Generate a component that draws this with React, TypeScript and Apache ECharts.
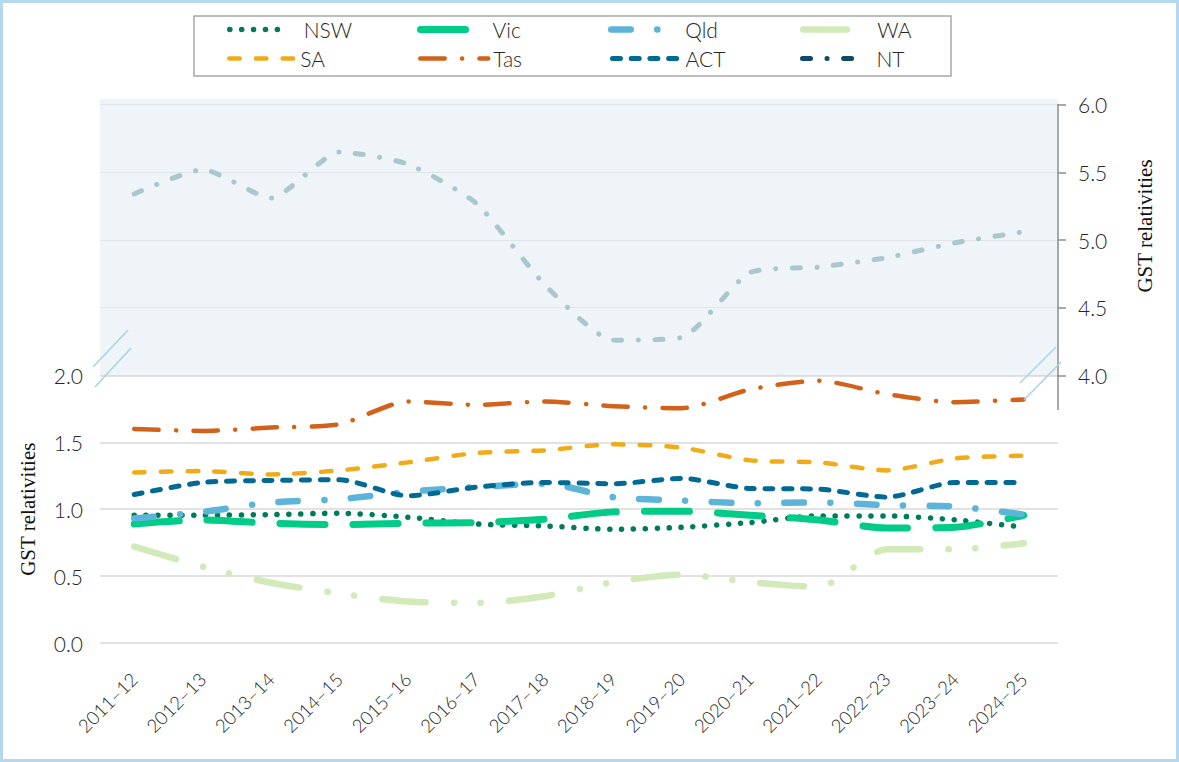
import React, { useEffect, useRef } from "react";
import * as echarts from "echarts";

const categories = [
  "2011–12", "2012–13", "2013–14", "2014–15", "2015–16", "2016–17", "2017–18",
  "2018–19", "2019–20", "2020–21", "2021–22", "2022–23", "2023–24", "2024–25",
];

const nsw = [0.955, 0.955, 0.96, 0.97, 0.94, 0.89, 0.875, 0.85, 0.865, 0.9, 0.95, 0.95, 0.92, 0.865];
const vic = [0.89, 0.92, 0.895, 0.885, 0.895, 0.9, 0.925, 0.98, 0.985, 0.955, 0.92, 0.86, 0.865, 0.955];
const qld = [0.93, 0.98, 1.05, 1.075, 1.13, 1.165, 1.19, 1.09, 1.065, 1.045, 1.05, 1.03, 1.02, 0.96];
const wa = [0.72, 0.57, 0.45, 0.37, 0.31, 0.3, 0.35, 0.455, 0.51, 0.455, 0.42, 0.7, 0.7, 0.745];
const sa = [1.275, 1.285, 1.26, 1.29, 1.35, 1.42, 1.44, 1.485, 1.46, 1.365, 1.35, 1.29, 1.38, 1.4];
const tas = [1.6, 1.585, 1.61, 1.635, 1.805, 1.78, 1.805, 1.77, 1.755, 1.895, 1.96, 1.86, 1.8, 1.82];
const act = [1.11, 1.2, 1.215, 1.22, 1.1, 1.165, 1.2, 1.19, 1.23, 1.155, 1.15, 1.09, 1.2, 1.2];
const nt = [5.34, 5.52, 5.31, 5.65, 5.56, 5.27, 4.67, 4.26, 4.28, 4.76, 4.8, 4.87, 4.98, 5.06];

const lowerTicks = { min: 0, max: 2, interval: 0.5 };
const upperTicks = { min: 4, max: 6, interval: 0.5 };

const axisName = "GST relativities";

const FONT = "Lato";
const TXT = "#262626";

type Spec = {
  name: string;
  data: number[];
  color: string;
  legendColor: string;
  width: number;
  dash: number[];
  upper: boolean;
  legendLeft: number;
  legendTop: number;
  legendW: number;
  textPad: number;
};

export default function App() {
  const ref = useRef<HTMLDivElement>(null);

  useEffect(() => {
    if (!ref.current) return;
    const chart = echarts.init(ref.current, undefined, { renderer: "svg" });

    const R1 = 19;
    const R2 = 48;
    const specs: Spec[] = [
      { name: "NSW", data: nsw, color: "#007a5c", legendColor: "#007a5c", width: 5.5, dash: [0.1, 11.8], upper: false, legendLeft: 227, legendTop: R1, legendW: 58, textPad: 11 },
      { name: "Vic", data: vic, color: "#00cc88", legendColor: "#00cc88", width: 7, dash: [45, 28], upper: false, legendLeft: 417, legendTop: R1, legendW: 51, textPad: 16 },
      { name: "Qld", data: qld, color: "#5cb4d9", legendColor: "#5cb4d9", width: 6.5, dash: [19.5, 26.5, 0.1, 26.5], upper: false, legendLeft: 608, legendTop: R1, legendW: 50, textPad: 19 },
      { name: "WA", data: wa, color: "#d2e9b9", legendColor: "#d2e9b9", width: 6.5, dash: [43.5, 28.3, 0.1, 26.7, 0.1, 28.3], upper: false, legendLeft: 800, legendTop: R1, legendW: 53, textPad: 16 },
      { name: "SA", data: sa, color: "#f0ab18", legendColor: "#f0ab18", width: 4.5, dash: [10.5, 16.2], upper: false, legendLeft: 227, legendTop: R2, legendW: 66, textPad: 0 },
      { name: "Tas", data: tas, color: "#d2621a", legendColor: "#d2621a", width: 4.5, dash: [24.5, 17.3, 0.1, 17.3], upper: false, legendLeft: 418, legendTop: R2, legendW: 68, textPad: 0 },
      { name: "ACT", data: act, color: "#006a93", legendColor: "#006a93", width: 5, dash: [8, 10.7], upper: false, legendLeft: 610, legendTop: R2, legendW: 68, textPad: 0 },
      { name: "NT", data: nt, color: "#aac6ce", legendColor: "#0e4b6a", width: 5, dash: [8, 16.5, 0.1, 16.5], upper: true, legendLeft: 800, legendTop: R2, legendW: 58, textPad: 11 },
    ];

    const legends = specs.map((s) => ({
      top: s.legendTop,
      left: s.legendLeft,
      padding: 0,
      itemWidth: s.legendW,
      itemHeight: 14,
      selectedMode: false,
      itemStyle: { opacity: 0 },
      textStyle: {
        fontFamily: FONT,
        fontWeight: 300,
        fontSize: 21,
        color: TXT,
        padding: [0, 0, 0, s.textPad],
      },
      data: [
        {
          name: s.name,
          itemStyle: { opacity: 0 },
          lineStyle: {
            color: s.legendColor,
            width: s.width,
            type: s.dash,
            cap: "round",
          },
        },
      ],
    }));

    const series = specs.map((s) => ({
      name: s.name,
      type: "line",
      data: s.data,
      xAxisIndex: s.upper ? 0 : 1,
      yAxisIndex: s.upper ? 0 : 1,
      symbol: "none",
      smooth: s.upper ? 0.2 : 0.25,
      color: s.color,
      lineStyle: { color: s.color, width: s.width, type: s.dash, cap: "round", join: "round" },
      z: 3,
    }));

    const breakLine = (x1: number, y1: number, x2: number, y2: number) => ({
      type: "line",
      z: 10,
      silent: true,
      shape: { x1, y1, x2, y2 },
      style: { stroke: "#a9d1e8", lineWidth: 1.5 },
    });

    chart.setOption({
      animation: false,
      backgroundColor: "#ffffff",
      grid: [
        { left: 100, right: 121, top: 104.6, height: 270.8 },
        { left: 100, right: 121, top: 375.4, height: 267.6 },
      ],
      legend: legends,
      xAxis: [
        {
          type: "category",
          gridIndex: 0,
          data: categories,
          boundaryGap: true,
          show: false,
        },
        {
          type: "category",
          gridIndex: 1,
          data: categories,
          boundaryGap: true,
          axisLine: { show: false },
          axisTick: { show: false },
          axisLabel: {
            rotate: 45,
            margin: 33,
            fontFamily: FONT,
            fontWeight: 300,
            fontSize: 18.5,
            color: TXT,
          },
        },
      ],
      yAxis: [
        {
          type: "value",
          gridIndex: 0,
          position: "right",
          ...upperTicks,
          axisLine: { show: true, lineStyle: { color: "#8e8e8e", width: 1.5 } },
          axisTick: { show: true, length: 8, lineStyle: { color: "#8e8e8e", width: 1.5 } },
          axisLabel: {
            margin: 20,
            fontFamily: FONT,
            fontWeight: 300,
            fontSize: 21,
            color: TXT,
            formatter: (v: number) => v.toFixed(1),
          },
          splitLine: { show: true, lineStyle: { color: "#dfe5e8", width: 1.2 } },
          name: axisName,
          nameLocation: "middle",
          nameRotate: 90,
          nameGap: 76,
          nameTextStyle: { fontFamily: "Liberation Serif", fontSize: 21, color: "#111", padding: [0, 0, 0, 28] },
        },
        {
          type: "value",
          gridIndex: 1,
          position: "left",
          ...lowerTicks,
          axisLine: { show: false },
          axisTick: { show: false },
          axisLabel: {
            margin: 17,
            fontFamily: FONT,
            fontWeight: 300,
            fontSize: 21,
            color: TXT,
            formatter: (v: number) => v.toFixed(1),
          },
          splitLine: { show: true, lineStyle: { color: "#d9d9d9", width: 1.6 } },
          name: axisName,
          nameLocation: "middle",
          nameRotate: 90,
          nameGap: 62,
          nameTextStyle: { fontFamily: "Liberation Serif", fontSize: 21, color: "#111" },
        },
      ],
      graphic: [
        {
          type: "rect",
          z: -10,
          silent: true,
          shape: { x: 100, y: 99, width: 958, height: 276 },
          style: { fill: "#eef4f7" },
        },
        {
          type: "rect",
          z: -5,
          silent: true,
          shape: { x: 194, y: 16, width: 757, height: 60 },
          style: { fill: "#ffffff", stroke: "#a8a8a8", lineWidth: 1.5 },
        },
        {
          type: "rect",
          z: 10,
          silent: true,
          shape: { x: 1.5, y: 1.5, width: 1176, height: 759 },
          style: { fill: "none", stroke: "#b5d8ee", lineWidth: 3 },
        },
        {
          type: "line",
          z: 10,
          silent: true,
          shape: { x1: 1058, y1: 375, x2: 1058, y2: 410 },
          style: { stroke: "#8e8e8e", lineWidth: 1.5 },
        },
        breakLine(93, 367, 128, 330),
        breakLine(95, 387, 131, 348),
        breakLine(1020, 383, 1056, 347),
        breakLine(1024, 400, 1061, 362),
      ],
      series,
    });

    return () => chart.dispose();
  }, []);

  return (
    <div
      ref={ref}
      style={{ position: "absolute", left: 0, top: 0, width: 1179, height: 762 }}
    />
  );
}
